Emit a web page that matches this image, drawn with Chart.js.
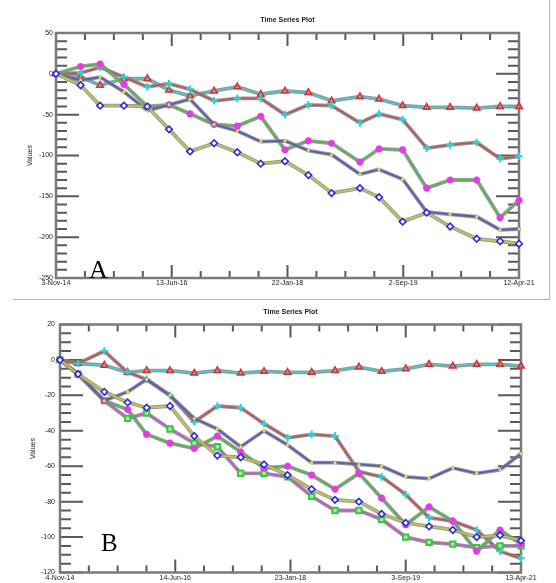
<!DOCTYPE html>
<html><head><meta charset="utf-8">
<script src="https://cdn.jsdelivr.net/npm/chart.js@4.4.1/dist/chart.umd.min.js"></script>
<style>
html,body{margin:0;padding:0;background:#fff;}
#wrap{position:relative;width:556px;height:583px;overflow:hidden;background:#fff;}
canvas{position:absolute;left:0;}
#ca{top:0;}
#cb{top:299px;}
.sep{position:absolute;background:#b4b4b4;z-index:2;}
.lbl{position:absolute;font-family:'Liberation Serif','Times New Roman',serif;color:#000;line-height:1;z-index:3;}
</style></head>
<body><div id="wrap">
<canvas id="ca" width="556" height="299"></canvas>
<canvas id="cb" width="556" height="284"></canvas>
<div class="sep" style="left:13px;top:299px;width:537px;height:1px"></div>
<div class="sep" style="left:549px;top:0;width:1px;height:300px"></div>
<div class="lbl" style="left:89px;top:257px;font-size:26px">A</div>
<div class="lbl" style="left:101px;top:530px;font-size:25px">B</div>
</div>
<script>
// ---------- DATA ----------
const titleText = 'Time Series Plot';
const yTitle = 'Values';

// Panel A
const axisRangeA = ['2014-11-03', '2021-04-12'];
const xTickLabelsA = ['3-Nov-14', '13-Jun-16', '22-Jan-18', '2-Sep-19', '12-Apr-21'];
const yTicksA = [50, 0, -50, -100, -150, -200, -250];
const datesA = ['2014-11-03','2015-03-08','2015-06-15','2015-10-14','2016-02-10','2016-05-30','2016-09-14',
  '2017-01-14','2017-05-12','2017-09-08','2018-01-09','2018-05-08','2018-09-03','2019-01-25','2019-05-02',
  '2019-08-30','2019-12-30','2020-04-27','2020-09-09','2021-01-06','2021-04-12'];
const tealA   = [0, -4, -14, -6, -6, -20, -27, -21, -16, -25, -21, -23, -33, -28, -31, -39, -41, -41, -42, -40, -40];
const brownA  = [0, 1, 8, -4, -16, -12, -19, -33, -30, -30, -50, -38, -39, -60, -49, -56, -91, -87, -84, -104, -101];
const greenA  = [0, 9, 12, -13, -40, -38, -49, -62, -64, -52, -93, -82, -85, -108, -92, -93, -140, -130, -130, -176, -155];
const slateA  = [0, -8, -4, -22, -45, -38, -31, -62, -70, -83, -82, -94, -99, -123, -117, -129, -169, -172, -175, -191, -190];
const yellowA = [0, -14, -39, -39, -40, -68, -95, -85, -96, -110, -107, -124, -146, -140, -151, -181, -170, -187, -202, -205, -208];

// Panel B
const axisRangeB = ['2014-11-04', '2021-04-13'];
const xTickLabelsB = ['4-Nov-14', '14-Jun-16', '23-Jan-18', '3-Sep-19', '13-Apr-21'];
const yTicksB = [20, 0, -20, -40, -60, -80, -100, -120];
const datesB = ['2014-11-04','2015-02-04','2015-06-18','2015-10-15','2016-01-20','2016-05-18','2016-09-19',
  '2017-01-15','2017-05-14','2017-09-10','2018-01-08','2018-05-11','2018-09-07','2019-01-07','2019-05-03',
  '2019-09-03','2019-12-31','2020-04-30','2020-08-30','2020-12-27','2021-04-13'];
const tealB    = [0, -2, -3, -7, -6, -6, -7.5, -6, -7.5, -6.5, -7, -7, -6, -4, -6.5, -5, -2.5, -3.5, -2.5, -2.5, -3.5];
const brownB   = [0, -2, 5, -7, -11, -20, -35, -26, -27, -36, -44, -42, -43, -63, -66, -76, -89, -91, -96, -108, -112];
const slateB   = [0, -8, -23, -18, -11, -20, -33, -39, -49, -40, -48, -58, -58, -59, -60, -66, -67, -61, -64, -62, -53];
const yellowB  = [0, -8, -18, -24, -27, -26, -43, -54, -55, -59, -65, -73, -79, -80, -87, -92, -94, -96, -100, -99, -102];
const greenB   = [0, -8, -23, -28, -42, -47, -50, -43, -52, -61, -60, -65, -73, -64, -78, -93, -83, -91, -108, -96, -104];
const magentaB = [0, -8, -23, -33, -30, -39, -47, -49, -64, -64, -66, -77, -85, -85, -90, -100, -103, -104, -106, -105, -105];

// ---------- STYLES ----------
const DAY = 86400000;
const STY = {
  teal:    {line:'#4cc4c4', mk:'#e8282a', ps:'triangle', r:3.8, bw:1.5, bg:'rgba(255,255,255,0)'},
  brown:   {line:'#b85a5a', mk:'#28d4d4', ps:'cross',    r:3.8, bw:2,   bg:'#28d4d4'},
  green:   {line:'#5ab45a', mk:'#e838e8', ps:'star',     r:3.6, bw:2.2, bg:'#e838e8'},
  slate:   {line:'#5c5cb4', mk:'#e8e838', ps:'circle',   r:1.5, bw:0,   bg:'#e8e838'},
  yellow:  {line:'#c4c450', mk:'#2a2ae0', ps:'rectRot',  r:3.3, bw:1.6, bg:'#ffffff'},
  magenta: {line:'#c060c0', mk:'#38c838', ps:'rect',     r:3.8, bw:2,   bg:'#a8eaa8'}
};
Chart.defaults.font.family = "'Liberation Sans', Arial, sans-serif";
Chart.defaults.animation = false;

function makeDs(values, dates, t0, key) {
  const s = STY[key];
  return {
    data: values.map((v, i) => ({x: (Date.parse(dates[i]) - t0) / DAY, y: v})),
    borderColor: s.line, borderWidth: 1.8, tension: 0, fill: false, clip: false,
    pointStyle: s.ps, pointRadius: s.r, pointBorderColor: s.mk, pointBorderWidth: s.bw,
    pointBackgroundColor: s.bg, pointHoverRadius: s.r
  };
}

// grey halo under every line (like the blurred original)
const haloPlugin = {
  id: 'halo',
  beforeDatasetDraw(chart, args) {
    const pts = args.meta.data, ctx = chart.ctx;
    ctx.save();
    ctx.strokeStyle = 'rgba(135,135,135,0.85)';
    ctx.lineWidth = 3.8; ctx.lineJoin = 'round'; ctx.lineCap = 'round';
    ctx.beginPath();
    pts.forEach((p, i) => i ? ctx.lineTo(p.x, p.y) : ctx.moveTo(p.x, p.y));
    ctx.stroke();
    ctx.restore();
  }
};

// IDL-style box with inward ticks on all four sides
const boxPlugin = {
  id: 'idlBox',
  beforeDatasetsDraw(chart, args, o) {
    const ctx = chart.ctx, ca = chart.chartArea;
    const xs = chart.scales.x, ys = chart.scales.y;
    ctx.save();
    ctx.strokeStyle = '#595959'; ctx.lineWidth = 2; ctx.lineCap = 'butt';
    const nY = Math.round((ys.max - ys.min) / o.yMinor);
    for (let k = 0; k <= nY; k++) {
      const v = ys.min + k * o.yMinor;
      const major = k % o.yPer === 0;
      const len = major ? 23 : 11;
      const py = ys.getPixelForValue(v);
      ctx.beginPath();
      ctx.moveTo(ca.left, py); ctx.lineTo(ca.left + len, py);
      ctx.moveTo(ca.right, py); ctx.lineTo(ca.right - len, py);
      ctx.stroke();
    }
    const nX = 16;
    for (let k = 0; k <= nX; k++) {
      const v = xs.min + k * (xs.max - xs.min) / nX;
      const major = k % 4 === 0;
      const len = major ? 13 : 7;
      const px = xs.getPixelForValue(v);
      ctx.beginPath();
      ctx.moveTo(px, ca.bottom); ctx.lineTo(px, ca.bottom - len);
      ctx.moveTo(px, ca.top); ctx.lineTo(px, ca.top + len);
      ctx.stroke();
    }
    ctx.strokeStyle = '#7a7a7a'; ctx.lineWidth = 2.5;
    ctx.strokeRect(ca.left, ca.top, ca.right - ca.left, ca.bottom - ca.top);
    ctx.restore();
  }
};

function makeChart(canvasId, cfg) {
  const t0 = Date.parse(cfg.range[0]);
  const span = (Date.parse(cfg.range[1]) - t0) / DAY;
  const tickFont = {size: 7};
  return new Chart(document.getElementById(canvasId), {
    type: 'line',
    data: {datasets: cfg.series.map(([vals, key]) => makeDs(vals, cfg.dates, t0, key))},
    plugins: [haloPlugin, boxPlugin],
    options: {
      responsive: false, maintainAspectRatio: false,
      events: [],
      layout: {padding: {left: 0, top: 0, right: cfg.padRight, bottom: 0}},
      plugins: {
        legend: {display: false}, tooltip: {enabled: false}, title: {display: false},
        idlBox: {yMinor: cfg.yMinor, yPer: cfg.yPer}
      },
      scales: {
        x: {
          type: 'linear', position: 'bottom', min: 0, max: span,
          afterBuildTicks: s => { s.ticks = cfg.xLabels.map((l, i) => ({value: i * span / 4})); },
          ticks: {callback: (v, i) => cfg.xLabels[i], font: tickFont, color: '#222', padding: cfg.xPad,
                  maxRotation: 0, autoSkip: false},
          grid: {display: false, drawTicks: false}, border: {display: false},
          afterFit: s => { s.height = cfg.xHeight; }
        },
        xTop: {
          type: 'linear', position: 'top', min: 0, max: span,
          ticks: {display: false}, grid: {display: false, drawTicks: false}, border: {display: false},
          title: {display: true, text: titleText, font: {size: 7, weight: 'bold'}, color: '#222',
                  padding: {top: cfg.titlePad, bottom: 0}},
          afterFit: s => { s.height = cfg.topHeight; }
        },
        y: {
          type: 'linear', min: cfg.yMin, max: cfg.yMax,
          afterBuildTicks: s => { s.ticks = cfg.yTicks.map(v => ({value: v})); },
          ticks: {font: tickFont, color: '#222', padding: cfg.yPad, callback: v => String(v)},
          grid: {display: false, drawTicks: false}, border: {display: false},
          title: {display: true, text: yTitle, font: {size: 7}, color: '#222',
                  padding: {top: cfg.yTitlePad, bottom: 0}},
          afterFit: s => { s.width = cfg.yWidth; }
        }
      }
    }
  });
}

makeChart('ca', {
  range: axisRangeA, dates: datesA, xLabels: xTickLabelsA, yTicks: yTicksA,
  yMin: -250, yMax: 50, yMinor: 10, yPer: 5,
  series: [[yellowA, 'yellow'], [slateA, 'slate'], [greenA, 'green'], [brownA, 'brown'], [tealA, 'teal']],
  padRight: 37, yWidth: 56, topHeight: 33, xHeight: 21, titlePad: 16.3, yPad: 3, xPad: 1, yTitlePad: 26
});
makeChart('cb', {
  range: axisRangeB, dates: datesB, xLabels: xTickLabelsB, yTicks: yTicksB,
  yMin: -120, yMax: 20, yMinor: 5, yPer: 4,
  series: [[yellowB, 'yellow'], [slateB, 'slate'], [greenB, 'green'], [magentaB, 'magenta'], [brownB, 'brown'], [tealB, 'teal']],
  padRight: 35, yWidth: 60, topHeight: 25.5, xHeight: 10.5, titlePad: 8.8, yPad: 5, xPad: 1, yTitlePad: 29
});
</script>
</body></html>
